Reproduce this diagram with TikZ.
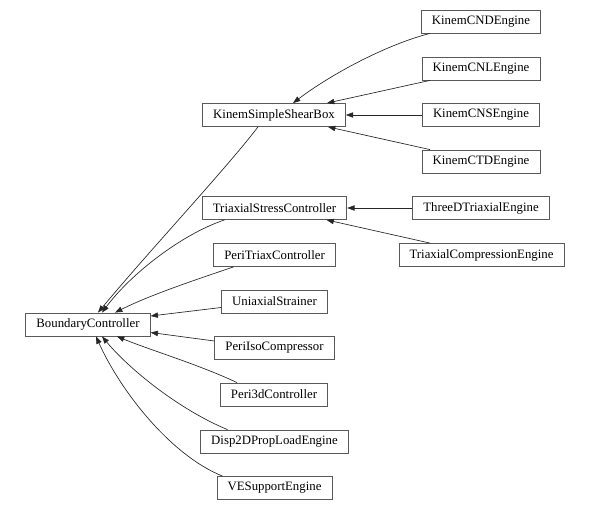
\documentclass[tikz,border=0pt]{standalone}
\usepackage{fontspec}
\setmainfont{Liberation Serif}
\usepackage{tikz}
\usetikzlibrary{arrows.meta, calc}

\begin{document}
\begin{tikzpicture}[x=0.75pt, y=-0.75pt,
    cls/.style={draw=black!65, line width=0.6pt, minimum height=17.25pt, inner xsep=8pt,
                inner ysep=0pt, font=\fontsize{9.6}{11}\selectfont},
    inherit/.style={draw=black!85, line width=0.5pt, -{Triangle[length=5.5pt,width=4pt]}}]
\useasboundingbox (0,0) rectangle (589,510);

% Base class
\node[cls] (bc) at (88,324.5) {BoundaryController};

% Middle column
\node[cls] (kssb) at (274,115) {KinemSimpleShearBox};
\node[cls] (tsc) at (274.5,208) {TriaxialStressController};
\node[cls] (ptc) at (274.5,255) {PeriTriaxController};
\node[cls] (uni) at (274.5,301.5) {UniaxialStrainer};
\node[cls] (piso) at (274.5,348) {PeriIsoCompressor};
\node[cls] (p3d) at (274,394.5) {Peri3dController};
\node[cls] (d2d) at (274.5,441.5) {Disp2DPropLoadEngine};
\node[cls] (ves) at (274.5,488) {VESupportEngine};

% Right column
\node[cls] (cnd) at (481,21.5) {KinemCNDEngine};
\node[cls] (cnl) at (481,68.5) {KinemCNLEngine};
\node[cls] (cns) at (481,115) {KinemCNSEngine};
\node[cls] (ctd) at (481,161.5) {KinemCTDEngine};
\node[cls] (tde) at (481,208) {ThreeDTriaxialEngine};
\node[cls] (tce) at (481.5,255) {TriaxialCompressionEngine};

% Edges into BoundaryController
\draw[inherit] ($(kssb.south)+(-16,0)$) .. controls (225,170) and (150,250) .. ($(bc.north)+(10,0)$);
\draw[inherit] ($(tsc.south)+(-50,0)$) .. controls (180,235) and (130,275) .. ($(bc.north)+(14,0)$);
\draw[inherit] ($(ptc.south)+(-41,0)$) .. controls (195,280) and (150,295) .. ($(bc.north)+(27,0)$);
\draw[inherit] ($(uni.west)+(0,6)$) -- ($(bc.east)+(0,-8.5)$);
\draw[inherit] ($(piso.west)+(0,-7)$) -- ($(bc.east)+(0,8)$);
\draw[inherit] ($(p3d.north)+(-37,0)$) .. controls (200,365) and (150,350) .. ($(bc.south)+(29,0)$);
\draw[inherit] ($(d2d.north)+(-47,0)$) .. controls (180,410) and (130,370) .. ($(bc.south)+(14,0)$);
\draw[inherit] ($(ves.north)+(-52,0)$) .. controls (170,455) and (120,390) .. ($(bc.south)+(8,0)$);

% Edges into KinemSimpleShearBox
\draw[inherit] ($(cnd.south)+(-51,0)$) .. controls (385,45) and (330,75) .. ($(kssb.north)+(19,0)$);
\draw[inherit] ($(cnl.south)+(-51,0)$) -- ($(kssb.north)+(53,0)$);
\draw[inherit] (cns.west) -- (kssb.east);
\draw[inherit] ($(ctd.north)+(-51,0)$) -- ($(kssb.south)+(54,0)$);

% Edges into TriaxialStressController
\draw[inherit] (tde.west) -- (tsc.east);
\draw[inherit] ($(tce.north)+(-51.5,0)$) -- ($(tsc.south)+(52,0)$);
\end{tikzpicture}
\end{document}
